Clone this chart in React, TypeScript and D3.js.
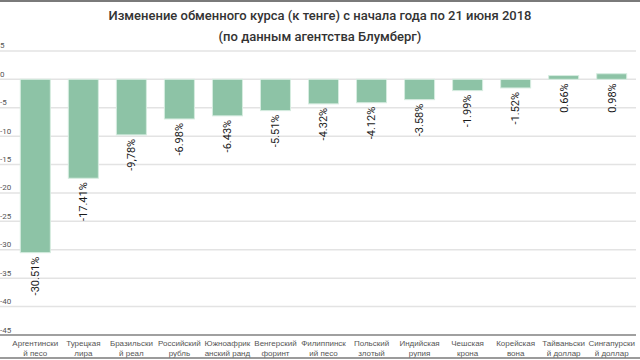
import React from "react";
import * as d3 from "d3";

const categories1 = ["Аргентински", "Турецкая", "Бразильски", "Российский", "Южноафрик", "Венгерский", "Филиппинск", "Польский", "Индийская", "Чешская", "Корейская", "Тайваньски", "Сингапурски"];
const categories2 = ["й песо", "лира", "й реал", "рубль", "анский ранд", "форинт", "ий песо", "злотый", "рупия", "крона", "вона", "й доллар", "й доллар"];
const values = [-30.51, -17.41, -9.78, -6.98, -6.43, -5.51, -4.32, -4.12, -3.58, -1.99, -1.52, 0.66, 0.98];
const valueLabels = ["-30.51%", "-17.41%", "-9,78%", "-6.98%", "-6.43%", "-5.51%", "-4.32%", "-4.12%", "-3.58%", "-1.99%", "-1.52%", "0.66%", "0.98%"];
const yTicks = [5, 0, -5, -10, -15, -20, -25, -30, -35, -40, -45];
const titleLines = ["Изменение обменного курса (к тенге) с начала года по 21 июня 2018", "(по данным агентства Блумберг)"];

export default function App() {
  const W = 640, H = 360;
  const idx = values.map((_, i) => String(i));
  const x = d3.scaleBand<string>().domain(idx).range([11.3, 635.7]).paddingInner(0.375).paddingOuter(0.1875);
  const y = d3.scaleLinear().domain([-45, 5]).range([335, 50.9]);
  const y0 = y(0);
  return (
    <svg width={W} height={H} style={{ position: "absolute", left: 0, top: 0, background: "#fff" }} fontFamily="Roboto, sans-serif">
      <rect x={0} y={0} width={W} height={H} fill="#fff" />
      <line x1={0} x2={W} y1={1} y2={1} stroke="#7a7a7a" strokeWidth={2} />
      {titleLines.map((t, i) => (
        <text key={i} x={320} y={20 + i * 21} textAnchor="middle" fontSize={13} fontWeight={500} fill="#333">{t}</text>
      ))}
      {yTicks.map((t) => (
        <g key={t}>
          <line x1={0} x2={636} y1={y(t)} y2={y(t)} stroke={t === -45 ? "#808080" : "#e3e3e3"} strokeWidth={1.5} />
          <text x={0} y={y(t) - 2.5} fontSize={8} fill="#555">{String(t)}</text>
        </g>
      ))}
      {values.map((v, i) => {
        const bx = x(String(i))!;
        const top = Math.min(y(v), y0);
        const bot = Math.max(y(v), y0);
        const cx = bx + x.bandwidth() / 2;
        const ly = bot + 4;
        return (
          <g key={i}>
            <rect x={bx} y={top} width={x.bandwidth()} height={bot - top} fill="#8dc3a6" stroke="#d6ece0" strokeWidth={1} />
            <text transform={`translate(${cx},${ly}) rotate(-90)`} textAnchor="end" dy="0.35em" fontSize={11} fill="#1a1a1a">{valueLabels[i]}</text>
            <text x={cx} y={346} textAnchor="middle" fontSize={8} fill="#555" fontFamily="Liberation Sans, Arial, sans-serif">{categories1[i]}</text>
            <text x={cx} y={356} textAnchor="middle" fontSize={8} fill="#555" fontFamily="Liberation Sans, Arial, sans-serif">{categories2[i]}</text>
          </g>
        );
      })}
      <line x1={0} x2={W} y1={358} y2={358} stroke="#7a7a7a" strokeWidth={1.5} />
    </svg>
  );
}
